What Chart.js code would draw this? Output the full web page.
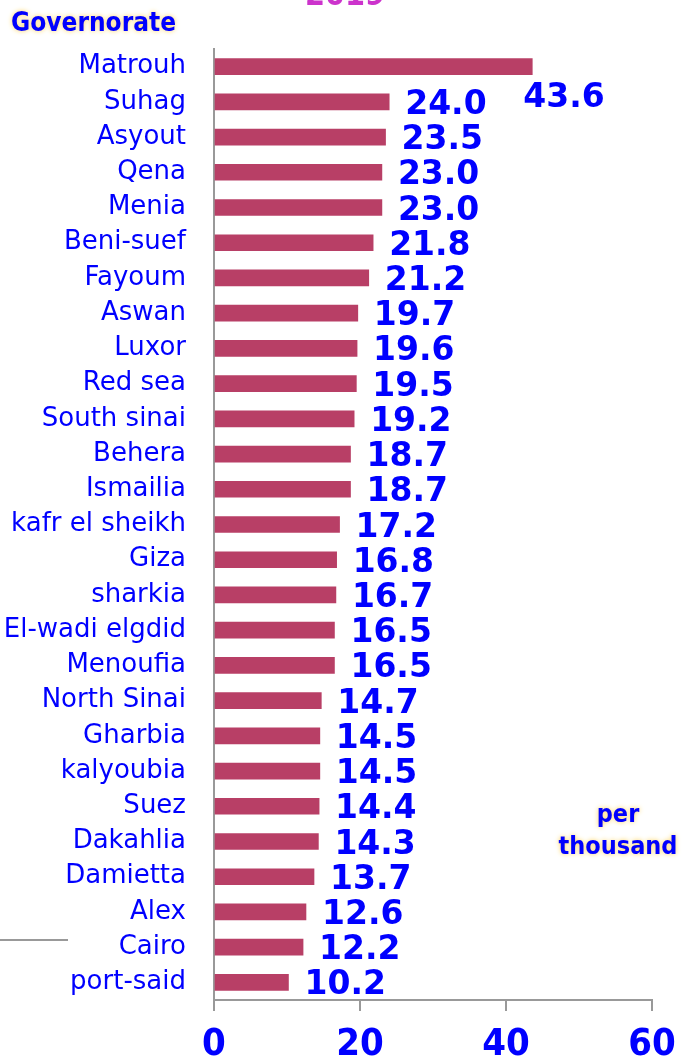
<!DOCTYPE html>
<html>
<head>
<meta charset="utf-8">
<title>Governorate rates 2019</title>
<script src="https://cdn.jsdelivr.net/npm/chart.js@4.4.1/dist/chart.umd.min.js"></script>
<style>
  html, body { margin: 0; padding: 0; background: #fff; }
  #wrap { position: relative; width: 683px; height: 1060px; }
</style>
</head>
<body>
<div id="wrap"><canvas id="rates" width="683" height="1060"></canvas></div>
<script>
// governorates, highest rate first
const governorates = [
  'Matrouh', 'Suhag', 'Asyout', 'Qena', 'Menia', 'Beni-suef', 'Fayoum',
  'Aswan', 'Luxor', 'Red sea', 'South sinai', 'Behera', 'Ismailia',
  'kafr el sheikh', 'Giza', 'sharkia', 'El-wadi elgdid', 'Menoufia',
  'North Sinai', 'Gharbia', 'kalyoubia', 'Suez', 'Dakahlia', 'Damietta',
  'Alex', 'Cairo', 'port-said'
];
const rates = [
  43.6, 24.0, 23.5, 23.0, 23.0, 21.8, 21.2,
  19.7, 19.6, 19.5, 19.2, 18.7, 18.7,
  17.2, 16.8, 16.7, 16.5, 16.5,
  14.7, 14.5, 14.5, 14.4, 14.3, 13.7,
  12.6, 12.2, 10.2
];
const xTicks = [0, 20, 40, 60];

const BLUE = '#0000ff';
const WIDE = '"DejaVu Sans", sans-serif';
const NARROW = '"DejaVu Sans Condensed", "DejaVu Sans", sans-serif';

// value labels next to each bar
const barValues = {
  id: 'barValues',
  afterDatasetsDraw(chart) {
    const ctx = chart.ctx;
    const meta = chart.getDatasetMeta(0);
    ctx.save();
    ctx.font = 'bold 33px ' + WIDE;
    ctx.fillStyle = BLUE;
    ctx.textAlign = 'left';
    ctx.textBaseline = 'alphabetic';
    meta.data.forEach((bar, i) => {
      const txt = rates[i].toFixed(1);
      let x = bar.x + 16;
      let y = bar.y + 12;
      if (i === 0) { // longest bar: label sits underneath its end
        x = bar.x - 9;
        y = bar.y + 40;
      }
      ctx.fillText(txt, x, y);
    });
    ctx.restore();
  }
};

// title, axis captions and the small rule on the left
const extras = {
  id: 'extras',
  afterDraw(chart) {
    const ctx = chart.ctx;
    ctx.save();
    ctx.textBaseline = 'alphabetic';

    ctx.font = 'bold 32px ' + NARROW;
    ctx.fillStyle = '#cc33cc';
    ctx.textAlign = 'center';
    ctx.fillText('2019', 345, 5);

    ctx.fillStyle = BLUE;
    ctx.shadowColor = '#ffd35c';
    ctx.shadowBlur = 5;
    ctx.font = 'bold 26px ' + NARROW;
    ctx.textAlign = 'left';
    ctx.fillText('Governorate', 11, 31);
    ctx.font = 'bold 25px ' + NARROW;
    ctx.textAlign = 'center';
    ctx.fillText('per', 618, 822);
    ctx.fillText('thousand', 618, 854);
    ctx.shadowBlur = 0;
    ctx.shadowColor = 'transparent';

    ctx.strokeStyle = '#999';
    ctx.lineWidth = 2;
    ctx.beginPath();
    ctx.moveTo(0, 940);
    ctx.lineTo(68, 940);
    ctx.stroke();
    ctx.restore();
  }
};

new Chart(document.getElementById('rates'), {
  type: 'bar',
  data: {
    labels: governorates,
    datasets: [{
      data: rates,
      backgroundColor: '#b83f66',
      barThickness: 16
    }]
  },
  options: {
    indexAxis: 'y',
    responsive: false,
    animation: false,
    layout: { padding: { top: 49, right: 31, left: 0, bottom: 0 } },
    plugins: {
      legend: { display: false },
      tooltip: { enabled: false }
    },
    scales: {
      x: {
        min: 0,
        max: 60,
        afterFit: (scale) => {
          scale.height = 60;
          scale.paddingLeft = 0;
          scale.paddingRight = 0;
        },
        afterBuildTicks: (scale) => { scale.ticks = xTicks.map((v) => ({ value: v })); },
        border: { display: true, color: '#999', width: 2 },
        grid: {
          display: true,
          drawOnChartArea: false,
          drawTicks: true,
          tickLength: 11,
          color: '#999',
          lineWidth: 2
        },
        ticks: {
          color: BLUE,
          padding: 11,
          font: { family: NARROW, size: 38, weight: 'bold' }
        }
      },
      y: {
        afterFit: (scale) => {
          scale.width = 214;
          scale.paddingTop = 0;
          scale.paddingBottom = 0;
        },
        border: { display: true, color: '#999', width: 2 },
        grid: { display: false, drawTicks: false },
        ticks: {
          color: BLUE,
          padding: 28,
          autoSkip: false,
          font: { family: WIDE, size: 26 }
        }
      }
    }
  },
  plugins: [barValues, extras]
});
</script>
</body>
</html>
